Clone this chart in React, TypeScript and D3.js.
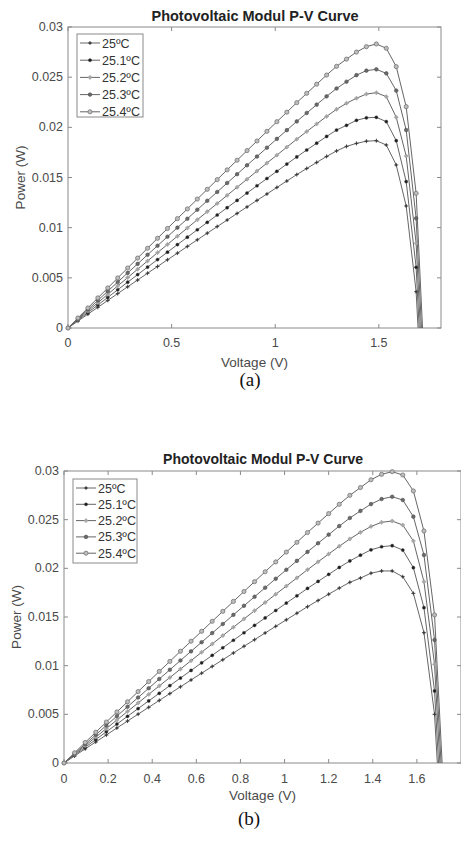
import React from 'react';
import * as d3 from 'd3';

// ---------- data ----------
const voltage = [0, 0.048, 0.096, 0.144, 0.192, 0.24, 0.288, 0.336, 0.384, 0.432, 0.48, 0.528, 0.576, 0.624, 0.672, 0.72, 0.768, 0.816, 0.864, 0.912, 0.96, 1.008, 1.056, 1.104, 1.152, 1.2, 1.248, 1.296, 1.344, 1.392, 1.44, 1.488, 1.536, 1.584, 1.632, 1.68, 1.728];

const legendLabels = ['25ºC', '25.1ºC', '25.2ºC', '25.3ºC', '25.4ºC'];
const yTicks = [0, 0.005, 0.01, 0.015, 0.02, 0.025, 0.03];
const yTickLabels = ['0', '0.005', '0.01', '0.015', '0.02', '0.025', '0.03'];
const xTicksA = [0, 0.5, 1, 1.5];
const xTickLabelsA = ['0', '0.5', '1', '1.5'];
const xTicksB = [0, 0.2, 0.4, 0.6, 0.8, 1, 1.2, 1.4, 1.6];
const xTickLabelsB = ['0', '0.2', '0.4', '0.6', '0.8', '1', '1.2', '1.4', '1.6'];

// (a)
const powerA_250 = [0, 0.00069, 0.00138, 0.00206, 0.00275, 0.00343, 0.00411, 0.00478, 0.00546, 0.00613, 0.00680, 0.00746, 0.00813, 0.00879, 0.00945, 0.01011, 0.01076, 0.01142, 0.01207, 0.01272, 0.01336, 0.01401, 0.01465, 0.01529, 0.01590, 0.01650, 0.01710, 0.01765, 0.0181, 0.0184, 0.01862, 0.01867, 0.01824, 0.01625, 0.01216, 0.00362, -0.015];
const powerA_251 = [0, 0.00077, 0.00153, 0.00229, 0.00305, 0.00381, 0.00457, 0.00532, 0.00607, 0.00682, 0.00756, 0.00831, 0.00905, 0.00979, 0.01053, 0.01126, 0.01199, 0.01272, 0.01345, 0.01418, 0.01490, 0.01562, 0.01634, 0.01705, 0.01774, 0.01842, 0.01909, 0.01973, 0.0202, 0.0207, 0.02095, 0.02100, 0.02057, 0.01867, 0.01459, 0.00605, -0.0135];
const powerA_252 = [0, 0.00084, 0.00169, 0.00252, 0.00336, 0.00420, 0.00503, 0.00586, 0.00668, 0.00751, 0.00833, 0.00915, 0.00997, 0.01079, 0.01160, 0.01241, 0.01322, 0.01403, 0.01483, 0.01564, 0.01644, 0.01723, 0.01803, 0.01882, 0.01958, 0.02034, 0.02109, 0.02180, 0.0224, 0.0229, 0.02332, 0.02345, 0.02306, 0.02100, 0.01714, 0.00844, -0.0115];
const powerA_253 = [0, 0.00092, 0.00184, 0.00275, 0.00367, 0.00458, 0.00549, 0.00639, 0.00730, 0.00820, 0.00910, 0.01000, 0.01089, 0.01179, 0.01268, 0.01356, 0.01445, 0.01533, 0.01622, 0.01709, 0.01797, 0.01885, 0.01972, 0.02059, 0.02143, 0.02226, 0.02309, 0.02387, 0.02455, 0.0252, 0.02565, 0.02578, 0.02538, 0.02366, 0.01973, 0.01093, -0.0095];
const powerA_254 = [0, 0.00100, 0.00200, 0.00300, 0.00399, 0.00499, 0.00598, 0.00697, 0.00795, 0.00894, 0.00992, 0.01090, 0.01187, 0.01285, 0.01382, 0.01479, 0.01576, 0.01672, 0.01768, 0.01864, 0.01960, 0.02056, 0.02151, 0.02246, 0.02339, 0.02430, 0.02521, 0.02608, 0.0268, 0.0275, 0.02804, 0.02831, 0.02788, 0.02605, 0.02206, 0.01342, -0.0074];

// (b)
const powerB_250 = [0, 0.00072, 0.00145, 0.00216, 0.00288, 0.00360, 0.00431, 0.00502, 0.00572, 0.00643, 0.00713, 0.00783, 0.00853, 0.00923, 0.00992, 0.01061, 0.01130, 0.01199, 0.01267, 0.01336, 0.01404, 0.01471, 0.01539, 0.01606, 0.01670, 0.01734, 0.01797, 0.01856, 0.0190, 0.0195, 0.01973, 0.01973, 0.01914, 0.01743, 0.01339, 0.005, -0.014];
const powerB_251 = [0, 0.00081, 0.00161, 0.00241, 0.00321, 0.00400, 0.00480, 0.00559, 0.00638, 0.00716, 0.00795, 0.00873, 0.00951, 0.01029, 0.01106, 0.01184, 0.01261, 0.01338, 0.01414, 0.01491, 0.01567, 0.01643, 0.01718, 0.01794, 0.01866, 0.01938, 0.02009, 0.02076, 0.02135, 0.0219, 0.02222, 0.02233, 0.02188, 0.02007, 0.01596, 0.0074, -0.012];
const powerB_252 = [0, 0.00089, 0.00178, 0.00266, 0.00354, 0.00442, 0.00530, 0.00617, 0.00705, 0.00792, 0.00878, 0.00965, 0.01051, 0.01138, 0.01223, 0.01309, 0.01395, 0.01480, 0.01565, 0.01649, 0.01734, 0.01818, 0.01902, 0.01986, 0.02067, 0.02147, 0.02227, 0.02302, 0.0237, 0.0243, 0.02473, 0.02486, 0.02445, 0.02281, 0.01863, 0.01014, -0.010];
const powerB_253 = [0, 0.00097, 0.00193, 0.00290, 0.00386, 0.00482, 0.00578, 0.00673, 0.00768, 0.00863, 0.00958, 0.01053, 0.01147, 0.01241, 0.01335, 0.01428, 0.01522, 0.01615, 0.01708, 0.01801, 0.01893, 0.01985, 0.02077, 0.02169, 0.02258, 0.02346, 0.02434, 0.02517, 0.0259, 0.0266, 0.02712, 0.02736, 0.02702, 0.02531, 0.02137, 0.01264, -0.008];
const powerB_254 = [0, 0.00105, 0.00211, 0.00316, 0.00421, 0.00525, 0.00629, 0.00734, 0.00837, 0.00941, 0.01044, 0.01148, 0.01251, 0.01353, 0.01456, 0.01558, 0.01660, 0.01762, 0.01863, 0.01965, 0.02066, 0.02167, 0.02267, 0.02368, 0.02465, 0.02562, 0.02658, 0.02750, 0.0283, 0.0291, 0.02966, 0.02993, 0.02959, 0.02795, 0.02384, 0.01521, -0.006];

const seriesA = [powerA_250, powerA_251, powerA_252, powerA_253, powerA_254];
const seriesB = [powerB_250, powerB_251, powerB_252, powerB_253, powerB_254];

// ---------- styles ----------
const SANS = '"Liberation Sans", Arial, Helvetica, sans-serif';
const SERIF = '"Liberation Serif", "Times New Roman", serif';
const AXIS = '#8a8a8a';
const TEXT = '#4a4a4a';
const LINE = '#666';

type MarkerKind = 'plus' | 'dot' | 'plusLight' | 'filled' | 'circle';
const markerKinds: MarkerKind[] = ['plus', 'dot', 'plusLight', 'filled', 'circle'];

function Marker({ kind, cx, cy }: { kind: MarkerKind; cx: number; cy: number }) {
  switch (kind) {
    case 'plus':
      return (
        <g>
          <path d={`M${cx - 2},${cy}H${cx + 2}M${cx},${cy - 2}V${cy + 2}`} stroke="#3a3a3a" strokeWidth={0.9} />
          <circle cx={cx} cy={cy} r={1} fill="#3a3a3a" />
        </g>
      );
    case 'dot':
      return <circle cx={cx} cy={cy} r={1.6} fill="#1e1e1e" stroke="#444" strokeWidth={0.4} />;
    case 'plusLight':
      return (
        <g>
          <circle cx={cx} cy={cy} r={1.5} fill="#d0d0d0" stroke="#9a9a9a" strokeWidth={0.6} />
          <path d={`M${cx - 2.2},${cy}H${cx + 2.2}M${cx},${cy - 2.2}V${cy + 2.2}`} stroke="#9a9a9a" strokeWidth={0.8} />
        </g>
      );
    case 'filled':
      return <circle cx={cx} cy={cy} r={1.8} fill="#6a6a6a" stroke="#4a4a4a" strokeWidth={0.6} />;
    case 'circle':
    default:
      return <circle cx={cx} cy={cy} r={2.1} fill="#bdbdbd" stroke="#6a6a6a" strokeWidth={0.7} />;
  }
}

type Layout = {
  left: number; right: number; top: number; bottom: number;
  titleX: number; titleY: number; titleSize: number;
  xTickY: number; xLabelY: number; yLabelX: number;
  captionX: number; captionY: number; caption: string;
  legX: number; legY: number; legW: number; legH: number; legRow0: number; legStep: number;
};

function Panel({ id, L, xTicks, xTickLabels, series }: { id: string; L: Layout; xTicks: number[]; xTickLabels: string[]; series: number[][] }) {
  const x = d3.scaleLinear().domain([0, 1.8]).range([L.left, L.right]);
  const y = d3.scaleLinear().domain([0, 0.03]).range([L.bottom, L.top]);
  const line = d3.line<number>().x((_, i) => x(voltage[i])).y((d) => y(d));
  const tk = 4;
  const clipId = `clip-${id}`;
  return (
    <g>
      <defs>
        <clipPath id={clipId}>
          <rect x={L.left} y={L.top - 4} width={L.right - L.left} height={L.bottom - L.top + 4} />
        </clipPath>
      </defs>
      <rect x={L.left} y={L.top} width={L.right - L.left} height={L.bottom - L.top} fill="#fff" stroke={AXIS} strokeWidth={1} />
      {xTicks.map((t) => (
        <g key={`xt${t}`}>
          <line x1={x(t)} x2={x(t)} y1={L.bottom} y2={L.bottom - tk} stroke={AXIS} />
          <line x1={x(t)} x2={x(t)} y1={L.top} y2={L.top + tk} stroke={AXIS} />
        </g>
      ))}
      {yTicks.map((t) => (
        <g key={`yt${t}`}>
          <line x1={L.left} x2={L.left + tk} y1={y(t)} y2={y(t)} stroke={AXIS} />
          <line x1={L.right} x2={L.right - tk} y1={y(t)} y2={y(t)} stroke={AXIS} />
        </g>
      ))}
      {xTicks.map((t, i) => (
        <text key={`xl${t}`} x={x(t)} y={L.xTickY} textAnchor="middle" fontFamily={SANS} fontSize={12.5} fill={TEXT}>{xTickLabels[i]}</text>
      ))}
      {yTicks.map((t, i) => (
        <text key={`yl${t}`} x={L.left - 5} y={y(t) + 4} textAnchor="end" fontFamily={SANS} fontSize={12.5} fill={TEXT}>{yTickLabels[i]}</text>
      ))}
      <text x={L.titleX} y={L.titleY} textAnchor="middle" fontFamily={SANS} fontWeight="bold" fontSize={L.titleSize} fill="#222">Photovoltaic Modul P-V Curve</text>
      <text x={(L.left + L.right) / 2} y={L.xLabelY} textAnchor="middle" fontFamily={SANS} fontSize={13.5} fill={TEXT}>Voltage (V)</text>
      <text transform={`translate(${L.yLabelX},${(L.top + L.bottom) / 2}) rotate(-90)`} textAnchor="middle" fontFamily={SANS} fontSize={13.5} fill={TEXT}>Power (W)</text>
      <text x={L.captionX} y={L.captionY} textAnchor="middle" fontFamily={SERIF} fontSize={19} fill="#111">{L.caption}</text>
      <g clipPath={`url(#${clipId})`}>
        {series.map((s, k) => (
          <path key={`ln${k}`} d={line(s) || ''} fill="none" stroke={LINE} strokeWidth={1} />
        ))}
      </g>
      {series.map((s, k) => (
        <g key={`mk${k}`}>
          {s.map((v, i) => (v >= 0 && v <= 0.03 ? <Marker key={i} kind={markerKinds[k]} cx={x(voltage[i])} cy={y(v)} /> : null))}
        </g>
      ))}
      <rect x={L.legX} y={L.legY} width={L.legW} height={L.legH} fill="#fff" stroke={AXIS} strokeWidth={1} />
      {legendLabels.map((lab, k) => {
        const ry = L.legRow0 + k * L.legStep;
        const lx0 = L.legX + 3;
        const lx1 = L.legX + 23;
        return (
          <g key={`lg${k}`}>
            <line x1={lx0} x2={lx1} y1={ry} y2={ry} stroke={LINE} strokeWidth={1} />
            <Marker kind={markerKinds[k]} cx={(lx0 + lx1) / 2} cy={ry} />
            <text x={lx1 + 2} y={ry + 4.5} fontFamily={SANS} fontSize={12.5} fill="#333">{lab}</text>
          </g>
        );
      })}
    </g>
  );
}

const layoutA: Layout = {
  left: 68, right: 441, top: 27, bottom: 328,
  titleX: 255, titleY: 20.5, titleSize: 14.5,
  xTickY: 347, xLabelY: 367, yLabelX: 25,
  captionX: 250, captionY: 386, caption: '(a)',
  legX: 77, legY: 34, legW: 66, legH: 83, legRow0: 43, legStep: 17.2,
};

const layoutB: Layout = {
  left: 64, right: 461, top: 471, bottom: 763,
  titleX: 263, titleY: 464, titleSize: 14,
  xTickY: 783, xLabelY: 800, yLabelX: 21,
  captionX: 249, captionY: 825, caption: '(b)',
  legX: 73, legY: 479, legW: 64, legH: 84, legRow0: 488, legStep: 16.3,
};

export default function App() {
  return (
    <svg width={461} height={841} viewBox="0 0 461 841" style={{ position: 'absolute', left: 0, top: 0, background: '#fff' }}>
      <rect x={0} y={0} width={461} height={841} fill="#fff" />
      <Panel id="a" L={layoutA} xTicks={xTicksA} xTickLabels={xTickLabelsA} series={seriesA} />
      <Panel id="b" L={layoutB} xTicks={xTicksB} xTickLabels={xTickLabelsB} series={seriesB} />
    </svg>
  );
}
